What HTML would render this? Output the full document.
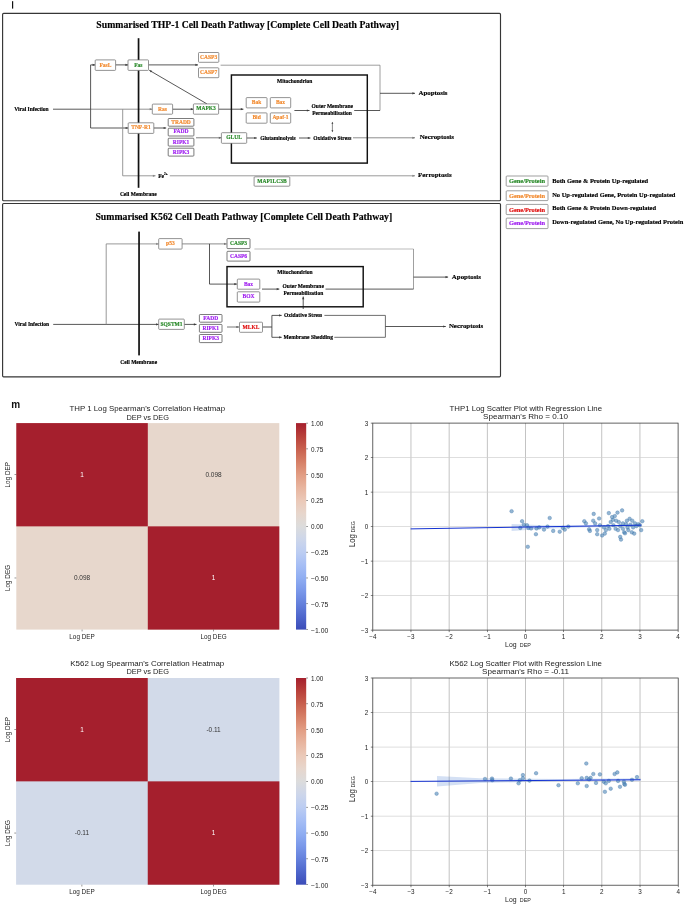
<!DOCTYPE html>
<html><head><meta charset="utf-8"><title>figure</title>
<style>
html,body{margin:0;padding:0;background:#fff;}
body{width:685px;height:907px;overflow:hidden;}
svg{display:block;filter:blur(0.3px);}
.sb{font-family:"Liberation Serif",serif;font-weight:bold;}
.ss{font-family:"Liberation Sans",sans-serif;}
.ssb{font-family:"Liberation Sans",sans-serif;font-weight:bold;}
</style></head><body>
<svg width="685" height="907" viewBox="0 0 685 907">
<rect x="0" y="0" width="685" height="907" fill="#fff"/>
<rect x="12" y="1.2" width="1.2" height="7.4" fill="#111"/>
<rect x="2.6" y="13.4" width="497.9" height="187.4" rx="1" fill="#fff" stroke="#363636" stroke-width="1.15"/>
<text x="247.65" y="27.90" font-size="9.75" text-anchor="middle" class="sb" fill="#000"  stroke="#000" stroke-width="0.16">Summarised THP-1 Cell Death Pathway [Complete Cell Death Pathway]</text>
<path d="M53.00,109.20 L90.60,109.20" fill="none" stroke="#3a3a3a" stroke-width="0.85" stroke-linejoin="round"/>
<path d="M90.60,109.20 L152.30,109.20" fill="none" stroke="#808080" stroke-width="0.85" stroke-linejoin="round"/>
<path d="M152.30,109.20 L149.70,110.30 L149.70,108.10Z" fill="#808080"/>
<path d="M90.60,109.20 L90.60,64.90 L95.20,64.90" fill="none" stroke="#3a3a3a" stroke-width="0.85" stroke-linejoin="round"/>
<path d="M95.20,64.90 L92.60,66.00 L92.60,63.80Z" fill="#3a3a3a"/>
<path d="M90.60,109.20 L90.60,128.00 L128.20,128.00" fill="none" stroke="#3a3a3a" stroke-width="0.85" stroke-linejoin="round"/>
<path d="M128.20,128.00 L125.60,129.10 L125.60,126.90Z" fill="#3a3a3a"/>
<path d="M122.70,109.20 L122.70,175.80 L155.50,175.80" fill="none" stroke="#878787" stroke-width="0.85" stroke-linejoin="round"/>
<path d="M155.50,175.80 L152.90,176.90 L152.90,174.70Z" fill="#878787"/>
<path d="M115.60,64.90 L128.00,64.90" fill="none" stroke="#3a3a3a" stroke-width="0.85" stroke-linejoin="round"/>
<path d="M128.00,64.90 L125.40,66.00 L125.40,63.80Z" fill="#3a3a3a"/>
<path d="M148.50,64.90 L198.00,64.90" fill="none" stroke="#3a3a3a" stroke-width="0.85" stroke-linejoin="round"/>
<path d="M198.00,64.90 L195.40,66.00 L195.40,63.80Z" fill="#3a3a3a"/>
<path d="M220.60,65.20 L380.00,65.20 L380.00,110.50" fill="none" stroke="#878787" stroke-width="0.8" stroke-linejoin="round"/>
<path d="M354.20,110.50 L380.00,110.50" fill="none" stroke="#3a3a3a" stroke-width="0.85" stroke-linejoin="round"/>
<path d="M380.00,93.30 L415.00,93.30" fill="none" stroke="#3a3a3a" stroke-width="0.85" stroke-linejoin="round"/>
<path d="M415.00,93.30 L412.40,94.40 L412.40,92.20Z" fill="#3a3a3a"/>
<path d="M172.60,109.20 L193.40,109.20" fill="none" stroke="#3a3a3a" stroke-width="0.85" stroke-linejoin="round"/>
<path d="M193.40,109.20 L190.80,110.30 L190.80,108.10Z" fill="#3a3a3a"/>
<path d="M218.60,109.20 L243.40,109.20" fill="none" stroke="#3a3a3a" stroke-width="0.85" stroke-linejoin="round"/>
<path d="M243.40,109.20 L240.80,110.30 L240.80,108.10Z" fill="#3a3a3a"/>
<path d="M206.80,103.80 L149.30,70.30" fill="none" stroke="#3a3a3a" stroke-width="0.85" stroke-linejoin="round"/>
<path d="M149.30,70.30 L152.10,70.66 L150.99,72.56Z" fill="#3a3a3a"/>
<path d="M153.80,128.00 L166.20,128.00" fill="none" stroke="#3a3a3a" stroke-width="0.85" stroke-linejoin="round"/>
<path d="M166.20,128.00 L163.60,129.10 L163.60,126.90Z" fill="#3a3a3a"/>
<path d="M196.00,137.80 L221.40,137.80" fill="none" stroke="#666" stroke-width="0.85" stroke-linejoin="round"/>
<path d="M221.40,137.80 L218.80,138.90 L218.80,136.70Z" fill="#666"/>
<path d="M246.60,138.00 L256.80,138.00" fill="none" stroke="#3a3a3a" stroke-width="0.85" stroke-linejoin="round"/>
<path d="M256.80,138.00 L254.20,139.10 L254.20,136.90Z" fill="#3a3a3a"/>
<path d="M299.00,138.00 L310.40,138.00" fill="none" stroke="#3a3a3a" stroke-width="0.85" stroke-linejoin="round"/>
<path d="M310.40,138.00 L307.80,139.10 L307.80,136.90Z" fill="#3a3a3a"/>
<path d="M294.40,110.50 L309.50,110.50" fill="none" stroke="#3a3a3a" stroke-width="0.85" stroke-linejoin="round"/>
<path d="M309.50,110.50 L306.90,111.60 L306.90,109.40Z" fill="#3a3a3a"/>
<path d="M353.00,137.80 L415.00,137.80" fill="none" stroke="#777" stroke-width="0.85" stroke-linejoin="round"/>
<path d="M415.00,137.80 L412.40,138.90 L412.40,136.70Z" fill="#777"/>
<path d="M169.80,175.80 L415.00,175.80" fill="none" stroke="#878787" stroke-width="0.85" stroke-linejoin="round"/>
<path d="M415.00,175.80 L412.40,176.90 L412.40,174.70Z" fill="#878787"/>
<path d="M332.40,122.60 L332.40,131.40" fill="none" stroke="#3a3a3a" stroke-width="0.6" stroke-linejoin="round"/>
<path d="M332.40,121.80 L333.30,123.80 L331.50,123.80Z" fill="#3a3a3a"/>
<path d="M332.40,132.20 L331.50,130.20 L333.30,130.20Z" fill="#3a3a3a"/>
<rect x="137.7" y="38.2" width="1.7" height="149.6" fill="#111"/>
<text x="138.30" y="195.81" font-size="5.5" text-anchor="middle" class="sb" fill="#000"  stroke="#000" stroke-width="0.16">Cell Membrane</text>
<rect x="231.4" y="75" width="135.9" height="88.1" fill="none" stroke="#111" stroke-width="1.45"/>
<text x="294.70" y="82.81" font-size="5.5" text-anchor="middle" class="sb" fill="#000"  stroke="#000" stroke-width="0.16">Mitochondrion</text>
<text x="31.45" y="110.72" font-size="5.5" text-anchor="middle" class="sb" fill="#000"  stroke="#000" stroke-width="0.16">Viral Infection</text>
<rect x="95.20" y="59.90" width="20.40" height="10.50" rx="0.8" fill="#fff" stroke="#666" stroke-width="0.7"/>
<text x="105.40" y="66.52" font-size="5.5" fill="#f28a2e" stroke="#f28a2e" stroke-width="0.16" text-anchor="middle" class="sb">FasL</text>
<rect x="128.00" y="59.90" width="20.50" height="10.50" rx="0.8" fill="#fff" stroke="#666" stroke-width="0.7"/>
<text x="138.25" y="66.52" font-size="5.5" fill="#2a8a2a" stroke="#2a8a2a" stroke-width="0.16" text-anchor="middle" class="sb">Fas</text>
<rect x="198.50" y="52.50" width="20.30" height="9.80" rx="0.8" fill="#fff" stroke="#666" stroke-width="0.7"/>
<text x="208.65" y="58.76" font-size="5.5" fill="#f28a2e" stroke="#f28a2e" stroke-width="0.16" text-anchor="middle" class="sb">CASP3</text>
<rect x="198.50" y="67.80" width="20.30" height="9.90" rx="0.8" fill="#fff" stroke="#666" stroke-width="0.7"/>
<text x="208.65" y="74.11" font-size="5.5" fill="#f28a2e" stroke="#f28a2e" stroke-width="0.16" text-anchor="middle" class="sb">CASP7</text>
<rect x="152.30" y="104.10" width="20.30" height="10.10" rx="0.8" fill="#fff" stroke="#666" stroke-width="0.7"/>
<text x="162.45" y="110.52" font-size="5.5" fill="#f28a2e" stroke="#f28a2e" stroke-width="0.16" text-anchor="middle" class="sb">Ras</text>
<rect x="193.40" y="103.90" width="25.20" height="10.30" rx="0.8" fill="#fff" stroke="#666" stroke-width="0.7"/>
<text x="206.00" y="110.42" font-size="5.5" fill="#2a8a2a" stroke="#2a8a2a" stroke-width="0.16" text-anchor="middle" class="sb">MAPK3</text>
<rect x="128.20" y="122.80" width="25.60" height="10.60" rx="0.8" fill="#fff" stroke="#666" stroke-width="0.7"/>
<text x="141.00" y="129.47" font-size="5.5" fill="#f28a2e" stroke="#f28a2e" stroke-width="0.16" text-anchor="middle" class="sb">TNF-R1</text>
<rect x="168.20" y="118.50" width="25.70" height="7.70" rx="0.8" fill="#fff" stroke="#444" stroke-width="0.7"/>
<text x="181.05" y="123.71" font-size="5.5" fill="#f28a2e" stroke="#f28a2e" stroke-width="0.16" text-anchor="middle" class="sb">TRADD</text>
<rect x="168.20" y="128.20" width="25.70" height="7.80" rx="0.8" fill="#fff" stroke="#444" stroke-width="0.7"/>
<text x="181.05" y="133.47" font-size="5.5" fill="#a020f0" stroke="#a020f0" stroke-width="0.16" text-anchor="middle" class="sb">FADD</text>
<rect x="168.20" y="138.20" width="25.70" height="7.90" rx="0.8" fill="#fff" stroke="#444" stroke-width="0.7"/>
<text x="181.05" y="143.51" font-size="5.5" fill="#a020f0" stroke="#a020f0" stroke-width="0.16" text-anchor="middle" class="sb">RIPK1</text>
<rect x="168.20" y="148.20" width="25.70" height="7.90" rx="0.8" fill="#fff" stroke="#444" stroke-width="0.7"/>
<text x="181.05" y="153.51" font-size="5.5" fill="#a020f0" stroke="#a020f0" stroke-width="0.16" text-anchor="middle" class="sb">RIPK3</text>
<rect x="221.40" y="132.70" width="25.30" height="10.60" rx="0.8" fill="#fff" stroke="#666" stroke-width="0.7"/>
<text x="234.05" y="139.37" font-size="5.5" fill="#2a8a2a" stroke="#2a8a2a" stroke-width="0.16" text-anchor="middle" class="sb">GLUL</text>
<rect x="246.20" y="97.60" width="20.80" height="10.30" rx="0.8" fill="#fff" stroke="#666" stroke-width="0.7"/>
<text x="256.60" y="104.11" font-size="5.5" fill="#f28a2e" stroke="#f28a2e" stroke-width="0.16" text-anchor="middle" class="sb">Bak</text>
<rect x="270.30" y="97.60" width="20.40" height="10.30" rx="0.8" fill="#fff" stroke="#666" stroke-width="0.7"/>
<text x="280.50" y="104.11" font-size="5.5" fill="#f28a2e" stroke="#f28a2e" stroke-width="0.16" text-anchor="middle" class="sb">Bax</text>
<rect x="246.20" y="112.90" width="20.80" height="10.30" rx="0.8" fill="#fff" stroke="#666" stroke-width="0.7"/>
<text x="256.60" y="119.42" font-size="5.5" fill="#f28a2e" stroke="#f28a2e" stroke-width="0.16" text-anchor="middle" class="sb">Bid</text>
<rect x="270.30" y="112.90" width="20.40" height="10.30" rx="0.8" fill="#fff" stroke="#666" stroke-width="0.7"/>
<text x="280.50" y="119.42" font-size="5.5" fill="#f28a2e" stroke="#f28a2e" stroke-width="0.16" text-anchor="middle" class="sb">Apaf-1</text>
<rect x="254.10" y="176.80" width="35.70" height="9.40" rx="0.8" fill="#fff" stroke="#666" stroke-width="0.7"/>
<text x="271.95" y="182.87" font-size="5.5" fill="#2a8a2a" stroke="#2a8a2a" stroke-width="0.16" text-anchor="middle" class="sb">MAP1LC3B</text>
<text x="332.25" y="108.02" font-size="5.5" text-anchor="middle" class="sb" fill="#000"  stroke="#000" stroke-width="0.16">Outer Membrane</text>
<text x="332.00" y="114.61" font-size="5.5" text-anchor="middle" class="sb" fill="#000"  stroke="#000" stroke-width="0.16">Permeabilisation</text>
<text x="278.05" y="139.62" font-size="5.5" text-anchor="middle" class="sb" fill="#000"  stroke="#000" stroke-width="0.16">Glutaminolysis</text>
<text x="332.30" y="139.72" font-size="5.5" text-anchor="middle" class="sb" fill="#000"  stroke="#000" stroke-width="0.16">Oxidative Stress</text>
<text x="158.20" y="177.60" font-size="5.5" text-anchor="start" class="sb" fill="#000"  stroke="#000" stroke-width="0.16">Fe<tspan font-size="3.4" dy="-2.2">2+</tspan></text>
<text x="433.00" y="95.18" font-size="6.9" text-anchor="middle" class="sb" fill="#000"  stroke="#000" stroke-width="0.16">Apoptosis</text>
<text x="436.80" y="139.18" font-size="6.9" text-anchor="middle" class="sb" fill="#000"  stroke="#000" stroke-width="0.16">Necroptosis</text>
<text x="434.85" y="177.38" font-size="6.9" text-anchor="middle" class="sb" fill="#000"  stroke="#000" stroke-width="0.16">Ferroptosis</text>
<rect x="506.2" y="176" width="41.8" height="10.20" rx="0.8" fill="#fff" stroke="#777" stroke-width="0.7"/>
<text x="527.00" y="183.21" font-size="6.4" text-anchor="middle" class="sb" fill="#2a8a2a"  stroke="#2a8a2a" stroke-width="0.16">Gene/Protein</text>
<text x="552.20" y="182.51" font-size="6.45" text-anchor="start" class="sb" fill="#000"  stroke="#000" stroke-width="0.16">Both Gene &amp; Protein Up-regulated</text>
<rect x="506.2" y="190.8" width="41.8" height="9.80" rx="0.8" fill="#fff" stroke="#777" stroke-width="0.7"/>
<text x="527.00" y="197.81" font-size="6.4" text-anchor="middle" class="sb" fill="#f28a2e"  stroke="#f28a2e" stroke-width="0.16">Gene/Protein</text>
<text x="552.20" y="196.91" font-size="6.45" text-anchor="start" class="sb" fill="#000"  stroke="#000" stroke-width="0.16">No Up-regulated Gene, Protein Up-regulated</text>
<rect x="506.2" y="204.4" width="41.8" height="10.20" rx="0.8" fill="#fff" stroke="#777" stroke-width="0.7"/>
<text x="527.00" y="211.61" font-size="6.4" text-anchor="middle" class="sb" fill="#e01010"  stroke="#e01010" stroke-width="0.16">Gene/Protein</text>
<text x="552.20" y="210.41" font-size="6.45" text-anchor="start" class="sb" fill="#000"  stroke="#000" stroke-width="0.16">Both Gene &amp; Protein Down-regulated</text>
<rect x="506.2" y="218.1" width="41.8" height="10.50" rx="0.8" fill="#fff" stroke="#777" stroke-width="0.7"/>
<text x="527.00" y="225.46" font-size="6.4" text-anchor="middle" class="sb" fill="#a020f0"  stroke="#a020f0" stroke-width="0.16">Gene/Protein</text>
<text x="552.20" y="223.91" font-size="6.45" text-anchor="start" class="sb" fill="#000"  stroke="#000" stroke-width="0.16">Down-regulated Gene, No Up-regulated Protein</text>
<rect x="2.6" y="203.5" width="497.9" height="173.3" rx="1" fill="#fff" stroke="#363636" stroke-width="1.15"/>
<text x="243.85" y="220.40" font-size="9.75" text-anchor="middle" class="sb" fill="#000"  stroke="#000" stroke-width="0.16">Summarised K562 Cell Death Pathway [Complete Cell Death Pathway]</text>
<path d="M53.20,324.40 L158.70,324.40" fill="none" stroke="#3a3a3a" stroke-width="0.85" stroke-linejoin="round"/>
<path d="M158.70,324.40 L156.10,325.50 L156.10,323.30Z" fill="#3a3a3a"/>
<path d="M106.20,324.40 L106.20,243.90 L158.70,243.90" fill="none" stroke="#878787" stroke-width="0.85" stroke-linejoin="round"/>
<path d="M158.70,243.90 L156.10,245.00 L156.10,242.80Z" fill="#878787"/>
<path d="M182.10,243.90 L226.60,243.90" fill="none" stroke="#777" stroke-width="0.85" stroke-linejoin="round"/>
<path d="M226.60,243.90 L224.00,245.00 L224.00,242.80Z" fill="#777"/>
<path d="M209.50,243.90 L209.50,284.10 L236.90,284.10" fill="none" stroke="#3a3a3a" stroke-width="0.85" stroke-linejoin="round"/>
<path d="M236.90,284.10 L234.30,285.20 L234.30,283.00Z" fill="#3a3a3a"/>
<path d="M254.40,249.00 L413.50,249.00" fill="none" stroke="#aaa" stroke-width="0.8" stroke-linejoin="round"/>
<path d="M413.50,249.00 L413.50,289.10" fill="none" stroke="#777" stroke-width="0.7" stroke-linejoin="round"/>
<path d="M325.50,289.10 L413.50,289.10" fill="none" stroke="#3a3a3a" stroke-width="0.85" stroke-linejoin="round"/>
<path d="M413.50,277.10 L448.10,277.10" fill="none" stroke="#3a3a3a" stroke-width="0.85" stroke-linejoin="round"/>
<path d="M448.10,277.10 L445.50,278.20 L445.50,276.00Z" fill="#3a3a3a"/>
<path d="M262.00,289.10 L279.30,289.10" fill="none" stroke="#3a3a3a" stroke-width="0.85" stroke-linejoin="round"/>
<path d="M279.30,289.10 L276.70,290.20 L276.70,288.00Z" fill="#3a3a3a"/>
<path d="M184.30,324.40 L196.50,324.40" fill="none" stroke="#3a3a3a" stroke-width="0.85" stroke-linejoin="round"/>
<path d="M196.50,324.40 L193.90,325.50 L193.90,323.30Z" fill="#3a3a3a"/>
<path d="M227.00,327.00 L239.00,327.00" fill="none" stroke="#555" stroke-width="0.8" stroke-linejoin="round"/>
<path d="M239.00,327.00 L236.40,328.10 L236.40,325.90Z" fill="#555"/>
<path d="M262.50,327.00 L271.90,327.00" fill="none" stroke="#3a3a3a" stroke-width="0.9" stroke-linejoin="round"/>
<path d="M271.90,327.00 L271.90,315.40 L281.70,315.40" fill="none" stroke="#3a3a3a" stroke-width="0.85" stroke-linejoin="round"/>
<path d="M281.70,315.40 L279.10,316.50 L279.10,314.30Z" fill="#3a3a3a"/>
<path d="M271.90,327.00 L271.90,337.30 L281.70,337.30" fill="none" stroke="#3a3a3a" stroke-width="0.85" stroke-linejoin="round"/>
<path d="M281.70,337.30 L279.10,338.40 L279.10,336.20Z" fill="#3a3a3a"/>
<path d="M324.40,315.40 L385.40,315.40 L385.40,337.30 L334.30,337.30" fill="none" stroke="#555" stroke-width="0.85" stroke-linejoin="round"/>
<path d="M385.40,326.50 L445.80,326.50" fill="none" stroke="#3a3a3a" stroke-width="0.85" stroke-linejoin="round"/>
<path d="M445.80,326.50 L443.20,327.60 L443.20,325.40Z" fill="#3a3a3a"/>
<path d="M303.20,309.00 L303.20,296.60" fill="none" stroke="#3a3a3a" stroke-width="0.85" stroke-linejoin="round"/>
<path d="M303.20,296.60 L304.30,299.20 L302.10,299.20Z" fill="#3a3a3a"/>
<rect x="138.2" y="231.6" width="1.7" height="123.8" fill="#111"/>
<text x="138.70" y="363.92" font-size="5.5" text-anchor="middle" class="sb" fill="#000"  stroke="#000" stroke-width="0.16">Cell Membrane</text>
<rect x="227" y="266.6" width="136.2" height="40.2" fill="none" stroke="#111" stroke-width="1.45"/>
<text x="294.95" y="274.12" font-size="5.5" text-anchor="middle" class="sb" fill="#000"  stroke="#000" stroke-width="0.16">Mitochondrion</text>
<text x="31.75" y="326.01" font-size="5.5" text-anchor="middle" class="sb" fill="#000"  stroke="#000" stroke-width="0.16">Viral Infection</text>
<rect x="158.70" y="238.60" width="23.40" height="10.50" rx="0.8" fill="#fff" stroke="#666" stroke-width="0.7"/>
<text x="170.40" y="245.22" font-size="5.5" fill="#f28a2e" stroke="#f28a2e" stroke-width="0.16" text-anchor="middle" class="sb">p53</text>
<rect x="227.00" y="238.60" width="23.00" height="10.00" rx="0.8" fill="#fff" stroke="#444" stroke-width="0.7"/>
<text x="238.50" y="244.97" font-size="5.5" fill="#2a8a2a" stroke="#2a8a2a" stroke-width="0.16" text-anchor="middle" class="sb">CASP3</text>
<rect x="227.00" y="251.30" width="23.00" height="9.80" rx="0.8" fill="#fff" stroke="#444" stroke-width="0.7"/>
<text x="238.50" y="257.57" font-size="5.5" fill="#a020f0" stroke="#a020f0" stroke-width="0.16" text-anchor="middle" class="sb">CASP6</text>
<rect x="237.30" y="279.10" width="22.50" height="10.10" rx="0.8" fill="#fff" stroke="#666" stroke-width="0.7"/>
<text x="248.55" y="285.51" font-size="5.5" fill="#a020f0" stroke="#a020f0" stroke-width="0.16" text-anchor="middle" class="sb">Bax</text>
<rect x="237.30" y="291.80" width="22.50" height="10.30" rx="0.8" fill="#fff" stroke="#666" stroke-width="0.7"/>
<text x="248.55" y="298.32" font-size="5.5" fill="#a020f0" stroke="#a020f0" stroke-width="0.16" text-anchor="middle" class="sb">BOX</text>
<rect x="158.70" y="319.10" width="25.60" height="10.30" rx="0.8" fill="#fff" stroke="#666" stroke-width="0.7"/>
<text x="171.50" y="325.62" font-size="5.5" fill="#2a8a2a" stroke="#2a8a2a" stroke-width="0.16" text-anchor="middle" class="sb">SQSTM1</text>
<rect x="199.40" y="314.50" width="22.60" height="7.70" rx="0.8" fill="#fff" stroke="#444" stroke-width="0.7"/>
<text x="210.70" y="319.72" font-size="5.5" fill="#a020f0" stroke="#a020f0" stroke-width="0.16" text-anchor="middle" class="sb">FADD</text>
<rect x="199.40" y="324.40" width="22.60" height="7.90" rx="0.8" fill="#fff" stroke="#444" stroke-width="0.7"/>
<text x="210.70" y="329.72" font-size="5.5" fill="#a020f0" stroke="#a020f0" stroke-width="0.16" text-anchor="middle" class="sb">RIPK1</text>
<rect x="199.40" y="334.50" width="22.60" height="8.10" rx="0.8" fill="#fff" stroke="#444" stroke-width="0.7"/>
<text x="210.70" y="339.92" font-size="5.5" fill="#a020f0" stroke="#a020f0" stroke-width="0.16" text-anchor="middle" class="sb">RIPK3</text>
<rect x="239.50" y="322.20" width="23.00" height="10.10" rx="0.8" fill="#fff" stroke="#666" stroke-width="0.7"/>
<text x="251.00" y="328.62" font-size="5.5" fill="#e01010" stroke="#e01010" stroke-width="0.16" text-anchor="middle" class="sb">MLKL</text>
<text x="303.20" y="288.21" font-size="5.5" text-anchor="middle" class="sb" fill="#000"  stroke="#000" stroke-width="0.16">Outer Membrane</text>
<text x="303.35" y="295.01" font-size="5.5" text-anchor="middle" class="sb" fill="#000"  stroke="#000" stroke-width="0.16">Permeabilisation</text>
<text x="303.10" y="316.92" font-size="5.5" text-anchor="middle" class="sb" fill="#000"  stroke="#000" stroke-width="0.16">Oxidative Stress</text>
<text x="308.25" y="338.51" font-size="5.5" text-anchor="middle" class="sb" fill="#000"  stroke="#000" stroke-width="0.16">Membrane Shedding</text>
<text x="466.40" y="278.98" font-size="6.9" text-anchor="middle" class="sb" fill="#000"  stroke="#000" stroke-width="0.16">Apoptosis</text>
<text x="466.05" y="328.28" font-size="6.9" text-anchor="middle" class="sb" fill="#000"  stroke="#000" stroke-width="0.16">Necroptosis</text>
<text x="11.30" y="408.30" font-size="10" text-anchor="start" class="ssb" fill="#111" >m</text>
<defs><linearGradient id="cw" x1="0" y1="1" x2="0" y2="0">
<stop offset="0.0000" stop-color="#3b4cb8"/>
<stop offset="0.0625" stop-color="#4e66cc"/>
<stop offset="0.1250" stop-color="#6480dc"/>
<stop offset="0.1875" stop-color="#7a98ea"/>
<stop offset="0.2500" stop-color="#90aef2"/>
<stop offset="0.3125" stop-color="#a6bef5"/>
<stop offset="0.3750" stop-color="#bccdf2"/>
<stop offset="0.4375" stop-color="#cdd6ea"/>
<stop offset="0.5000" stop-color="#dcdcdc"/>
<stop offset="0.5625" stop-color="#e7d6cc"/>
<stop offset="0.6250" stop-color="#ebc9b8"/>
<stop offset="0.6875" stop-color="#e8b59f"/>
<stop offset="0.7500" stop-color="#e29d83"/>
<stop offset="0.8125" stop-color="#d67f66"/>
<stop offset="0.8750" stop-color="#c8604e"/>
<stop offset="0.9375" stop-color="#b8403a"/>
<stop offset="1.0000" stop-color="#a51f2d"/>
</linearGradient></defs>
<rect x="16.3" y="423.1" width="263.00" height="206.50" fill="#e7d7cc"/>
<rect x="16.3" y="423.1" width="131.50" height="103.25" fill="#a51f2d"/>
<rect x="147.8" y="526.35" width="131.50" height="103.25" fill="#a51f2d"/>
<text x="147.25" y="410.70" font-size="7.8" text-anchor="middle" class="ss" fill="#222" textLength="155.5" lengthAdjust="spacingAndGlyphs">THP 1 Log Spearman's Correlation Heatmap</text>
<text x="147.75" y="419.50" font-size="7.8" text-anchor="middle" class="ss" fill="#222" textLength="42.5" lengthAdjust="spacingAndGlyphs">DEP vs DEG</text>
<text x="82.05" y="476.93" font-size="6.4" text-anchor="middle" class="ss" fill="#fff" >1</text>
<text x="213.55" y="580.18" font-size="6.4" text-anchor="middle" class="ss" fill="#fff" >1</text>
<text x="213.55" y="476.93" font-size="6.5" text-anchor="middle" class="ss" fill="#333" >0.098</text>
<text x="82.05" y="580.18" font-size="6.5" text-anchor="middle" class="ss" fill="#333" >0.098</text>
<rect x="81.80" y="629.6" width="0.5" height="1.8" fill="#333"/>
<text x="82.05" y="638.90" font-size="6.35" text-anchor="middle" class="ss" fill="#222" >Log DEP</text>
<rect x="213.30" y="629.6" width="0.5" height="1.8" fill="#333"/>
<text x="213.55" y="638.90" font-size="6.35" text-anchor="middle" class="ss" fill="#222" >Log DEG</text>
<rect x="14.50" y="474.48" width="1.8" height="0.5" fill="#333"/>
<text transform="translate(10.10,474.73) rotate(-90)" font-size="6.35" text-anchor="middle" class="ss" fill="#222">Log DEP</text>
<rect x="14.50" y="577.73" width="1.8" height="0.5" fill="#333"/>
<text transform="translate(10.10,577.98) rotate(-90)" font-size="6.35" text-anchor="middle" class="ss" fill="#222">Log DEG</text>
<rect x="296" y="423.1" width="10.2" height="206.50" fill="url(#cw)"/>
<rect x="306.2" y="422.85" width="1.8" height="0.5" fill="#333"/>
<text x="311.00" y="426.00" font-size="6.6" text-anchor="start" class="ss" fill="#222" textLength="12.4" lengthAdjust="spacingAndGlyphs">1.00</text>
<rect x="306.2" y="448.66" width="1.8" height="0.5" fill="#333"/>
<text x="311.00" y="451.81" font-size="6.6" text-anchor="start" class="ss" fill="#222" textLength="12.4" lengthAdjust="spacingAndGlyphs">0.75</text>
<rect x="306.2" y="474.48" width="1.8" height="0.5" fill="#333"/>
<text x="311.00" y="477.62" font-size="6.6" text-anchor="start" class="ss" fill="#222" textLength="12.4" lengthAdjust="spacingAndGlyphs">0.50</text>
<rect x="306.2" y="500.29" width="1.8" height="0.5" fill="#333"/>
<text x="311.00" y="503.44" font-size="6.6" text-anchor="start" class="ss" fill="#222" textLength="12.4" lengthAdjust="spacingAndGlyphs">0.25</text>
<rect x="306.2" y="526.10" width="1.8" height="0.5" fill="#333"/>
<text x="311.00" y="529.25" font-size="6.6" text-anchor="start" class="ss" fill="#222" textLength="12.4" lengthAdjust="spacingAndGlyphs">0.00</text>
<rect x="306.2" y="551.91" width="1.8" height="0.5" fill="#333"/>
<text x="311.00" y="555.06" font-size="6.6" text-anchor="start" class="ss" fill="#222" textLength="17.3" lengthAdjust="spacingAndGlyphs">−0.25</text>
<rect x="306.2" y="577.73" width="1.8" height="0.5" fill="#333"/>
<text x="311.00" y="580.88" font-size="6.6" text-anchor="start" class="ss" fill="#222" textLength="17.3" lengthAdjust="spacingAndGlyphs">−0.50</text>
<rect x="306.2" y="603.54" width="1.8" height="0.5" fill="#333"/>
<text x="311.00" y="606.69" font-size="6.6" text-anchor="start" class="ss" fill="#222" textLength="17.3" lengthAdjust="spacingAndGlyphs">−0.75</text>
<rect x="306.2" y="629.35" width="1.8" height="0.5" fill="#333"/>
<text x="311.00" y="632.50" font-size="6.6" text-anchor="start" class="ss" fill="#222" textLength="17.3" lengthAdjust="spacingAndGlyphs">−1.00</text>
<rect x="16.1" y="678" width="263.30" height="206.70" fill="#d2dae9"/>
<rect x="16.1" y="678" width="131.65" height="103.35" fill="#a51f2d"/>
<rect x="147.75" y="781.35" width="131.65" height="103.35" fill="#a51f2d"/>
<text x="147.25" y="665.60" font-size="7.8" text-anchor="middle" class="ss" fill="#222" textLength="154" lengthAdjust="spacingAndGlyphs">K562 Log Spearman's Correlation Heatmap</text>
<text x="147.75" y="674.40" font-size="7.8" text-anchor="middle" class="ss" fill="#222" textLength="42.5" lengthAdjust="spacingAndGlyphs">DEP vs DEG</text>
<text x="81.92" y="731.88" font-size="6.4" text-anchor="middle" class="ss" fill="#fff" >1</text>
<text x="213.57" y="835.23" font-size="6.4" text-anchor="middle" class="ss" fill="#fff" >1</text>
<text x="213.57" y="731.88" font-size="6.5" text-anchor="middle" class="ss" fill="#333" >-0.11</text>
<text x="81.92" y="835.23" font-size="6.5" text-anchor="middle" class="ss" fill="#333" >-0.11</text>
<rect x="81.67" y="884.7" width="0.5" height="1.8" fill="#333"/>
<text x="81.92" y="894.00" font-size="6.35" text-anchor="middle" class="ss" fill="#222" >Log DEP</text>
<rect x="213.32" y="884.7" width="0.5" height="1.8" fill="#333"/>
<text x="213.57" y="894.00" font-size="6.35" text-anchor="middle" class="ss" fill="#222" >Log DEG</text>
<rect x="14.30" y="729.42" width="1.8" height="0.5" fill="#333"/>
<text transform="translate(9.90,729.67) rotate(-90)" font-size="6.35" text-anchor="middle" class="ss" fill="#222">Log DEP</text>
<rect x="14.30" y="832.78" width="1.8" height="0.5" fill="#333"/>
<text transform="translate(9.90,833.03) rotate(-90)" font-size="6.35" text-anchor="middle" class="ss" fill="#222">Log DEG</text>
<rect x="296" y="678" width="10.2" height="206.70" fill="url(#cw)"/>
<rect x="306.2" y="677.75" width="1.8" height="0.5" fill="#333"/>
<text x="311.00" y="680.90" font-size="6.6" text-anchor="start" class="ss" fill="#222" textLength="12.4" lengthAdjust="spacingAndGlyphs">1.00</text>
<rect x="306.2" y="703.59" width="1.8" height="0.5" fill="#333"/>
<text x="311.00" y="706.74" font-size="6.6" text-anchor="start" class="ss" fill="#222" textLength="12.4" lengthAdjust="spacingAndGlyphs">0.75</text>
<rect x="306.2" y="729.42" width="1.8" height="0.5" fill="#333"/>
<text x="311.00" y="732.57" font-size="6.6" text-anchor="start" class="ss" fill="#222" textLength="12.4" lengthAdjust="spacingAndGlyphs">0.50</text>
<rect x="306.2" y="755.26" width="1.8" height="0.5" fill="#333"/>
<text x="311.00" y="758.41" font-size="6.6" text-anchor="start" class="ss" fill="#222" textLength="12.4" lengthAdjust="spacingAndGlyphs">0.25</text>
<rect x="306.2" y="781.10" width="1.8" height="0.5" fill="#333"/>
<text x="311.00" y="784.25" font-size="6.6" text-anchor="start" class="ss" fill="#222" textLength="12.4" lengthAdjust="spacingAndGlyphs">0.00</text>
<rect x="306.2" y="806.94" width="1.8" height="0.5" fill="#333"/>
<text x="311.00" y="810.09" font-size="6.6" text-anchor="start" class="ss" fill="#222" textLength="17.3" lengthAdjust="spacingAndGlyphs">−0.25</text>
<rect x="306.2" y="832.78" width="1.8" height="0.5" fill="#333"/>
<text x="311.00" y="835.93" font-size="6.6" text-anchor="start" class="ss" fill="#222" textLength="17.3" lengthAdjust="spacingAndGlyphs">−0.50</text>
<rect x="306.2" y="858.61" width="1.8" height="0.5" fill="#333"/>
<text x="311.00" y="861.76" font-size="6.6" text-anchor="start" class="ss" fill="#222" textLength="17.3" lengthAdjust="spacingAndGlyphs">−0.75</text>
<rect x="306.2" y="884.45" width="1.8" height="0.5" fill="#333"/>
<text x="311.00" y="887.60" font-size="6.6" text-anchor="start" class="ss" fill="#222" textLength="17.3" lengthAdjust="spacingAndGlyphs">−1.00</text>
<rect x="410.56" y="423.1" width="0.8" height="207.00" fill="#b4b4b4"/>
<rect x="448.73" y="423.1" width="0.8" height="207.00" fill="#b4b4b4"/>
<rect x="486.89" y="423.1" width="0.8" height="207.00" fill="#b4b4b4"/>
<rect x="525.05" y="423.1" width="0.8" height="207.00" fill="#b4b4b4"/>
<rect x="563.21" y="423.1" width="0.8" height="207.00" fill="#b4b4b4"/>
<rect x="601.38" y="423.1" width="0.8" height="207.00" fill="#b4b4b4"/>
<rect x="639.54" y="423.1" width="0.8" height="207.00" fill="#b4b4b4"/>
<rect x="372.8" y="457.25" width="305.30" height="0.7" fill="#d0d0d0"/>
<rect x="372.8" y="491.75" width="305.30" height="0.7" fill="#d0d0d0"/>
<rect x="372.8" y="526.25" width="305.30" height="0.7" fill="#d0d0d0"/>
<rect x="372.8" y="560.75" width="305.30" height="0.7" fill="#d0d0d0"/>
<rect x="372.8" y="595.25" width="305.30" height="0.7" fill="#d0d0d0"/>
<path d="M511.6,523.9 L545,525.3 L580,525.6 L610,525.2 L641,524.0 L641,526.6 L610,526.9 L580,527.6 L545,528.8 L511.6,531Z" fill="#4a7fd0" fill-opacity="0.24"/>
<circle cx="511.6" cy="511.2" r="1.8" fill="#4682b4" fill-opacity="0.58" stroke="#3c74a8" stroke-opacity="0.7" stroke-width="0.5"/>
<circle cx="522.1" cy="521.2" r="1.8" fill="#4682b4" fill-opacity="0.58" stroke="#3c74a8" stroke-opacity="0.7" stroke-width="0.5"/>
<circle cx="520.3" cy="527.9" r="1.8" fill="#4682b4" fill-opacity="0.58" stroke="#3c74a8" stroke-opacity="0.7" stroke-width="0.5"/>
<circle cx="523.8" cy="524.7" r="1.8" fill="#4682b4" fill-opacity="0.58" stroke="#3c74a8" stroke-opacity="0.7" stroke-width="0.5"/>
<circle cx="527.0" cy="525.2" r="1.8" fill="#4682b4" fill-opacity="0.58" stroke="#3c74a8" stroke-opacity="0.7" stroke-width="0.5"/>
<circle cx="528.4" cy="527.9" r="1.8" fill="#4682b4" fill-opacity="0.58" stroke="#3c74a8" stroke-opacity="0.7" stroke-width="0.5"/>
<circle cx="531.1" cy="528.5" r="1.8" fill="#4682b4" fill-opacity="0.58" stroke="#3c74a8" stroke-opacity="0.7" stroke-width="0.5"/>
<circle cx="527.8" cy="546.8" r="1.8" fill="#4682b4" fill-opacity="0.58" stroke="#3c74a8" stroke-opacity="0.7" stroke-width="0.5"/>
<circle cx="535.9" cy="534.2" r="1.8" fill="#4682b4" fill-opacity="0.58" stroke="#3c74a8" stroke-opacity="0.7" stroke-width="0.5"/>
<circle cx="536.5" cy="528.5" r="1.8" fill="#4682b4" fill-opacity="0.58" stroke="#3c74a8" stroke-opacity="0.7" stroke-width="0.5"/>
<circle cx="539.2" cy="527.4" r="1.8" fill="#4682b4" fill-opacity="0.58" stroke="#3c74a8" stroke-opacity="0.7" stroke-width="0.5"/>
<circle cx="544.0" cy="529.6" r="1.8" fill="#4682b4" fill-opacity="0.58" stroke="#3c74a8" stroke-opacity="0.7" stroke-width="0.5"/>
<circle cx="547.5" cy="526.6" r="1.8" fill="#4682b4" fill-opacity="0.58" stroke="#3c74a8" stroke-opacity="0.7" stroke-width="0.5"/>
<circle cx="549.7" cy="518.0" r="1.8" fill="#4682b4" fill-opacity="0.58" stroke="#3c74a8" stroke-opacity="0.7" stroke-width="0.5"/>
<circle cx="553.2" cy="530.9" r="1.8" fill="#4682b4" fill-opacity="0.58" stroke="#3c74a8" stroke-opacity="0.7" stroke-width="0.5"/>
<circle cx="559.7" cy="531.7" r="1.8" fill="#4682b4" fill-opacity="0.58" stroke="#3c74a8" stroke-opacity="0.7" stroke-width="0.5"/>
<circle cx="562.9" cy="527.9" r="1.8" fill="#4682b4" fill-opacity="0.58" stroke="#3c74a8" stroke-opacity="0.7" stroke-width="0.5"/>
<circle cx="564.8" cy="529.6" r="1.8" fill="#4682b4" fill-opacity="0.58" stroke="#3c74a8" stroke-opacity="0.7" stroke-width="0.5"/>
<circle cx="568.3" cy="526.6" r="1.8" fill="#4682b4" fill-opacity="0.58" stroke="#3c74a8" stroke-opacity="0.7" stroke-width="0.5"/>
<circle cx="584.3" cy="521.2" r="1.8" fill="#4682b4" fill-opacity="0.58" stroke="#3c74a8" stroke-opacity="0.7" stroke-width="0.5"/>
<circle cx="585.9" cy="523.4" r="1.8" fill="#4682b4" fill-opacity="0.58" stroke="#3c74a8" stroke-opacity="0.7" stroke-width="0.5"/>
<circle cx="589.1" cy="529.3" r="1.8" fill="#4682b4" fill-opacity="0.58" stroke="#3c74a8" stroke-opacity="0.7" stroke-width="0.5"/>
<circle cx="589.9" cy="530.9" r="1.8" fill="#4682b4" fill-opacity="0.58" stroke="#3c74a8" stroke-opacity="0.7" stroke-width="0.5"/>
<circle cx="593.7" cy="513.9" r="1.8" fill="#4682b4" fill-opacity="0.58" stroke="#3c74a8" stroke-opacity="0.7" stroke-width="0.5"/>
<circle cx="593.2" cy="520.7" r="1.8" fill="#4682b4" fill-opacity="0.58" stroke="#3c74a8" stroke-opacity="0.7" stroke-width="0.5"/>
<circle cx="595.1" cy="523.4" r="1.8" fill="#4682b4" fill-opacity="0.58" stroke="#3c74a8" stroke-opacity="0.7" stroke-width="0.5"/>
<circle cx="597.2" cy="530.1" r="1.8" fill="#4682b4" fill-opacity="0.58" stroke="#3c74a8" stroke-opacity="0.7" stroke-width="0.5"/>
<circle cx="597.2" cy="534.2" r="1.8" fill="#4682b4" fill-opacity="0.58" stroke="#3c74a8" stroke-opacity="0.7" stroke-width="0.5"/>
<circle cx="599.1" cy="518.5" r="1.8" fill="#4682b4" fill-opacity="0.58" stroke="#3c74a8" stroke-opacity="0.7" stroke-width="0.5"/>
<circle cx="599.9" cy="525.2" r="1.8" fill="#4682b4" fill-opacity="0.58" stroke="#3c74a8" stroke-opacity="0.7" stroke-width="0.5"/>
<circle cx="602.1" cy="535.5" r="1.8" fill="#4682b4" fill-opacity="0.58" stroke="#3c74a8" stroke-opacity="0.7" stroke-width="0.5"/>
<circle cx="604.0" cy="527.4" r="1.8" fill="#4682b4" fill-opacity="0.58" stroke="#3c74a8" stroke-opacity="0.7" stroke-width="0.5"/>
<circle cx="604.8" cy="533.6" r="1.8" fill="#4682b4" fill-opacity="0.58" stroke="#3c74a8" stroke-opacity="0.7" stroke-width="0.5"/>
<circle cx="605.9" cy="530.1" r="1.8" fill="#4682b4" fill-opacity="0.58" stroke="#3c74a8" stroke-opacity="0.7" stroke-width="0.5"/>
<circle cx="608.0" cy="526.1" r="1.8" fill="#4682b4" fill-opacity="0.58" stroke="#3c74a8" stroke-opacity="0.7" stroke-width="0.5"/>
<circle cx="608.8" cy="513.1" r="1.8" fill="#4682b4" fill-opacity="0.58" stroke="#3c74a8" stroke-opacity="0.7" stroke-width="0.5"/>
<circle cx="609.4" cy="528.8" r="1.8" fill="#4682b4" fill-opacity="0.58" stroke="#3c74a8" stroke-opacity="0.7" stroke-width="0.5"/>
<circle cx="610.7" cy="522.0" r="1.8" fill="#4682b4" fill-opacity="0.58" stroke="#3c74a8" stroke-opacity="0.7" stroke-width="0.5"/>
<circle cx="612.1" cy="517.1" r="1.8" fill="#4682b4" fill-opacity="0.58" stroke="#3c74a8" stroke-opacity="0.7" stroke-width="0.5"/>
<circle cx="612.9" cy="519.8" r="1.8" fill="#4682b4" fill-opacity="0.58" stroke="#3c74a8" stroke-opacity="0.7" stroke-width="0.5"/>
<circle cx="613.4" cy="525.2" r="1.8" fill="#4682b4" fill-opacity="0.58" stroke="#3c74a8" stroke-opacity="0.7" stroke-width="0.5"/>
<circle cx="614.8" cy="516.1" r="1.8" fill="#4682b4" fill-opacity="0.58" stroke="#3c74a8" stroke-opacity="0.7" stroke-width="0.5"/>
<circle cx="615.6" cy="528.8" r="1.8" fill="#4682b4" fill-opacity="0.58" stroke="#3c74a8" stroke-opacity="0.7" stroke-width="0.5"/>
<circle cx="616.1" cy="520.7" r="1.8" fill="#4682b4" fill-opacity="0.58" stroke="#3c74a8" stroke-opacity="0.7" stroke-width="0.5"/>
<circle cx="617.5" cy="512.6" r="1.8" fill="#4682b4" fill-opacity="0.58" stroke="#3c74a8" stroke-opacity="0.7" stroke-width="0.5"/>
<circle cx="618.0" cy="530.1" r="1.8" fill="#4682b4" fill-opacity="0.58" stroke="#3c74a8" stroke-opacity="0.7" stroke-width="0.5"/>
<circle cx="618.8" cy="522.0" r="1.8" fill="#4682b4" fill-opacity="0.58" stroke="#3c74a8" stroke-opacity="0.7" stroke-width="0.5"/>
<circle cx="620.2" cy="526.1" r="1.8" fill="#4682b4" fill-opacity="0.58" stroke="#3c74a8" stroke-opacity="0.7" stroke-width="0.5"/>
<circle cx="620.2" cy="536.9" r="1.8" fill="#4682b4" fill-opacity="0.58" stroke="#3c74a8" stroke-opacity="0.7" stroke-width="0.5"/>
<circle cx="621.0" cy="539.6" r="1.8" fill="#4682b4" fill-opacity="0.58" stroke="#3c74a8" stroke-opacity="0.7" stroke-width="0.5"/>
<circle cx="622.1" cy="510.4" r="1.8" fill="#4682b4" fill-opacity="0.58" stroke="#3c74a8" stroke-opacity="0.7" stroke-width="0.5"/>
<circle cx="622.9" cy="523.4" r="1.8" fill="#4682b4" fill-opacity="0.58" stroke="#3c74a8" stroke-opacity="0.7" stroke-width="0.5"/>
<circle cx="622.9" cy="528.8" r="1.8" fill="#4682b4" fill-opacity="0.58" stroke="#3c74a8" stroke-opacity="0.7" stroke-width="0.5"/>
<circle cx="624.2" cy="532.3" r="1.8" fill="#4682b4" fill-opacity="0.58" stroke="#3c74a8" stroke-opacity="0.7" stroke-width="0.5"/>
<circle cx="625.0" cy="533.3" r="1.8" fill="#4682b4" fill-opacity="0.58" stroke="#3c74a8" stroke-opacity="0.7" stroke-width="0.5"/>
<circle cx="626.1" cy="524.2" r="1.8" fill="#4682b4" fill-opacity="0.58" stroke="#3c74a8" stroke-opacity="0.7" stroke-width="0.5"/>
<circle cx="626.9" cy="520.7" r="1.8" fill="#4682b4" fill-opacity="0.58" stroke="#3c74a8" stroke-opacity="0.7" stroke-width="0.5"/>
<circle cx="627.5" cy="527.4" r="1.8" fill="#4682b4" fill-opacity="0.58" stroke="#3c74a8" stroke-opacity="0.7" stroke-width="0.5"/>
<circle cx="628.3" cy="530.1" r="1.8" fill="#4682b4" fill-opacity="0.58" stroke="#3c74a8" stroke-opacity="0.7" stroke-width="0.5"/>
<circle cx="629.6" cy="518.8" r="1.8" fill="#4682b4" fill-opacity="0.58" stroke="#3c74a8" stroke-opacity="0.7" stroke-width="0.5"/>
<circle cx="630.4" cy="524.7" r="1.8" fill="#4682b4" fill-opacity="0.58" stroke="#3c74a8" stroke-opacity="0.7" stroke-width="0.5"/>
<circle cx="631.8" cy="532.3" r="1.8" fill="#4682b4" fill-opacity="0.58" stroke="#3c74a8" stroke-opacity="0.7" stroke-width="0.5"/>
<circle cx="632.3" cy="520.7" r="1.8" fill="#4682b4" fill-opacity="0.58" stroke="#3c74a8" stroke-opacity="0.7" stroke-width="0.5"/>
<circle cx="633.1" cy="527.4" r="1.8" fill="#4682b4" fill-opacity="0.58" stroke="#3c74a8" stroke-opacity="0.7" stroke-width="0.5"/>
<circle cx="634.2" cy="533.6" r="1.8" fill="#4682b4" fill-opacity="0.58" stroke="#3c74a8" stroke-opacity="0.7" stroke-width="0.5"/>
<circle cx="635.0" cy="523.4" r="1.8" fill="#4682b4" fill-opacity="0.58" stroke="#3c74a8" stroke-opacity="0.7" stroke-width="0.5"/>
<circle cx="636.4" cy="526.1" r="1.8" fill="#4682b4" fill-opacity="0.58" stroke="#3c74a8" stroke-opacity="0.7" stroke-width="0.5"/>
<circle cx="638.3" cy="524.2" r="1.8" fill="#4682b4" fill-opacity="0.58" stroke="#3c74a8" stroke-opacity="0.7" stroke-width="0.5"/>
<circle cx="639.9" cy="525.2" r="1.8" fill="#4682b4" fill-opacity="0.58" stroke="#3c74a8" stroke-opacity="0.7" stroke-width="0.5"/>
<circle cx="641.2" cy="530.1" r="1.8" fill="#4682b4" fill-opacity="0.58" stroke="#3c74a8" stroke-opacity="0.7" stroke-width="0.5"/>
<circle cx="642.3" cy="521.2" r="1.8" fill="#4682b4" fill-opacity="0.58" stroke="#3c74a8" stroke-opacity="0.7" stroke-width="0.5"/>
<path d="M410.6,528.9 L641.2,525.2" stroke="#1432d2" stroke-width="1.0" fill="none"/>
<rect x="372.8" y="423.1" width="305.30" height="207.00" fill="none" stroke="#303030" stroke-width="0.75"/>
<rect x="372.50" y="630.1" width="0.6" height="2" fill="#333"/>
<text x="372.80" y="638.80" font-size="6.3" text-anchor="middle" class="ss" fill="#222" >−4</text>
<rect x="410.66" y="630.1" width="0.6" height="2" fill="#333"/>
<text x="410.96" y="638.80" font-size="6.3" text-anchor="middle" class="ss" fill="#222" >−3</text>
<rect x="448.82" y="630.1" width="0.6" height="2" fill="#333"/>
<text x="449.12" y="638.80" font-size="6.3" text-anchor="middle" class="ss" fill="#222" >−2</text>
<rect x="486.99" y="630.1" width="0.6" height="2" fill="#333"/>
<text x="487.29" y="638.80" font-size="6.3" text-anchor="middle" class="ss" fill="#222" >−1</text>
<rect x="525.15" y="630.1" width="0.6" height="2" fill="#333"/>
<text x="525.45" y="638.80" font-size="6.3" text-anchor="middle" class="ss" fill="#222" >0</text>
<rect x="563.31" y="630.1" width="0.6" height="2" fill="#333"/>
<text x="563.61" y="638.80" font-size="6.3" text-anchor="middle" class="ss" fill="#222" >1</text>
<rect x="601.48" y="630.1" width="0.6" height="2" fill="#333"/>
<text x="601.78" y="638.80" font-size="6.3" text-anchor="middle" class="ss" fill="#222" >2</text>
<rect x="639.64" y="630.1" width="0.6" height="2" fill="#333"/>
<text x="639.94" y="638.80" font-size="6.3" text-anchor="middle" class="ss" fill="#222" >3</text>
<rect x="677.80" y="630.1" width="0.6" height="2" fill="#333"/>
<text x="678.10" y="638.80" font-size="6.3" text-anchor="middle" class="ss" fill="#222" >4</text>
<rect x="370.80" y="422.80" width="2" height="0.6" fill="#333"/>
<text x="368.30" y="425.60" font-size="6.3" text-anchor="end" class="ss" fill="#222" >3</text>
<rect x="370.80" y="457.30" width="2" height="0.6" fill="#333"/>
<text x="368.30" y="460.10" font-size="6.3" text-anchor="end" class="ss" fill="#222" >2</text>
<rect x="370.80" y="491.80" width="2" height="0.6" fill="#333"/>
<text x="368.30" y="494.60" font-size="6.3" text-anchor="end" class="ss" fill="#222" >1</text>
<rect x="370.80" y="526.30" width="2" height="0.6" fill="#333"/>
<text x="368.30" y="529.10" font-size="6.3" text-anchor="end" class="ss" fill="#222" >0</text>
<rect x="370.80" y="560.80" width="2" height="0.6" fill="#333"/>
<text x="368.30" y="563.60" font-size="6.3" text-anchor="end" class="ss" fill="#222" >−1</text>
<rect x="370.80" y="595.30" width="2" height="0.6" fill="#333"/>
<text x="368.30" y="598.10" font-size="6.3" text-anchor="end" class="ss" fill="#222" >−2</text>
<rect x="370.80" y="629.80" width="2" height="0.6" fill="#333"/>
<text x="368.30" y="632.60" font-size="6.3" text-anchor="end" class="ss" fill="#222" >−3</text>
<text x="525.75" y="410.70" font-size="7.86" text-anchor="middle" class="ss" fill="#222" textLength="152.5" lengthAdjust="spacingAndGlyphs">THP1 Log Scatter Plot with Regression Line</text>
<text x="525.50" y="419.40" font-size="7.86" text-anchor="middle" class="ss" fill="#222" textLength="85" lengthAdjust="spacingAndGlyphs">Spearman's Rho = 0.10</text>
<text x="505.10" y="646.70" font-size="6.9" text-anchor="start" class="ss" fill="#222" >Log</text>
<text x="519.80" y="646.70" font-size="5.9" text-anchor="start" class="ss" fill="#222" textLength="11" lengthAdjust="spacingAndGlyphs">DEP</text>
<text transform="translate(355.4,547.20) rotate(-90)" font-size="8.3" class="ss" fill="#222" textLength="13.2" lengthAdjust="spacingAndGlyphs">Log</text>
<text transform="translate(355.4,532.60) rotate(-90)" font-size="5.6" class="ss" fill="#222" textLength="11.3" lengthAdjust="spacingAndGlyphs">DEG</text>
<rect x="410.58" y="678" width="0.8" height="207.20" fill="#b4b4b4"/>
<rect x="448.75" y="678" width="0.8" height="207.20" fill="#b4b4b4"/>
<rect x="486.93" y="678" width="0.8" height="207.20" fill="#b4b4b4"/>
<rect x="525.10" y="678" width="0.8" height="207.20" fill="#b4b4b4"/>
<rect x="563.28" y="678" width="0.8" height="207.20" fill="#b4b4b4"/>
<rect x="601.45" y="678" width="0.8" height="207.20" fill="#b4b4b4"/>
<rect x="639.63" y="678" width="0.8" height="207.20" fill="#b4b4b4"/>
<rect x="372.8" y="712.18" width="305.40" height="0.7" fill="#d0d0d0"/>
<rect x="372.8" y="746.72" width="305.40" height="0.7" fill="#d0d0d0"/>
<rect x="372.8" y="781.25" width="305.40" height="0.7" fill="#d0d0d0"/>
<rect x="372.8" y="815.78" width="305.40" height="0.7" fill="#d0d0d0"/>
<rect x="372.8" y="850.32" width="305.40" height="0.7" fill="#d0d0d0"/>
<path d="M437,776 L480,778.2 L560,778.9 L640.5,778.2 L640.5,780.4 L560,781.2 L480,783 L437,786.5Z" fill="#4a7fd0" fill-opacity="0.24"/>
<circle cx="436.6" cy="793.7" r="1.8" fill="#4682b4" fill-opacity="0.58" stroke="#3c74a8" stroke-opacity="0.7" stroke-width="0.5"/>
<circle cx="485.0" cy="779.0" r="1.8" fill="#4682b4" fill-opacity="0.58" stroke="#3c74a8" stroke-opacity="0.7" stroke-width="0.5"/>
<circle cx="492.0" cy="778.6" r="1.8" fill="#4682b4" fill-opacity="0.58" stroke="#3c74a8" stroke-opacity="0.7" stroke-width="0.5"/>
<circle cx="492.3" cy="780.2" r="1.8" fill="#4682b4" fill-opacity="0.58" stroke="#3c74a8" stroke-opacity="0.7" stroke-width="0.5"/>
<circle cx="510.9" cy="778.6" r="1.8" fill="#4682b4" fill-opacity="0.58" stroke="#3c74a8" stroke-opacity="0.7" stroke-width="0.5"/>
<circle cx="518.6" cy="783.3" r="1.8" fill="#4682b4" fill-opacity="0.58" stroke="#3c74a8" stroke-opacity="0.7" stroke-width="0.5"/>
<circle cx="519.8" cy="780.2" r="1.8" fill="#4682b4" fill-opacity="0.58" stroke="#3c74a8" stroke-opacity="0.7" stroke-width="0.5"/>
<circle cx="522.9" cy="775.1" r="1.8" fill="#4682b4" fill-opacity="0.58" stroke="#3c74a8" stroke-opacity="0.7" stroke-width="0.5"/>
<circle cx="522.9" cy="778.2" r="1.8" fill="#4682b4" fill-opacity="0.58" stroke="#3c74a8" stroke-opacity="0.7" stroke-width="0.5"/>
<circle cx="529.5" cy="780.6" r="1.8" fill="#4682b4" fill-opacity="0.58" stroke="#3c74a8" stroke-opacity="0.7" stroke-width="0.5"/>
<circle cx="536.1" cy="773.2" r="1.8" fill="#4682b4" fill-opacity="0.58" stroke="#3c74a8" stroke-opacity="0.7" stroke-width="0.5"/>
<circle cx="558.5" cy="785.2" r="1.8" fill="#4682b4" fill-opacity="0.58" stroke="#3c74a8" stroke-opacity="0.7" stroke-width="0.5"/>
<circle cx="577.8" cy="783.3" r="1.8" fill="#4682b4" fill-opacity="0.58" stroke="#3c74a8" stroke-opacity="0.7" stroke-width="0.5"/>
<circle cx="581.7" cy="778.2" r="1.8" fill="#4682b4" fill-opacity="0.58" stroke="#3c74a8" stroke-opacity="0.7" stroke-width="0.5"/>
<circle cx="586.3" cy="763.5" r="1.8" fill="#4682b4" fill-opacity="0.58" stroke="#3c74a8" stroke-opacity="0.7" stroke-width="0.5"/>
<circle cx="586.7" cy="777.9" r="1.8" fill="#4682b4" fill-opacity="0.58" stroke="#3c74a8" stroke-opacity="0.7" stroke-width="0.5"/>
<circle cx="586.7" cy="786.0" r="1.8" fill="#4682b4" fill-opacity="0.58" stroke="#3c74a8" stroke-opacity="0.7" stroke-width="0.5"/>
<circle cx="589.1" cy="779.4" r="1.8" fill="#4682b4" fill-opacity="0.58" stroke="#3c74a8" stroke-opacity="0.7" stroke-width="0.5"/>
<circle cx="590.6" cy="777.9" r="1.8" fill="#4682b4" fill-opacity="0.58" stroke="#3c74a8" stroke-opacity="0.7" stroke-width="0.5"/>
<circle cx="593.3" cy="774.0" r="1.8" fill="#4682b4" fill-opacity="0.58" stroke="#3c74a8" stroke-opacity="0.7" stroke-width="0.5"/>
<circle cx="596.0" cy="782.9" r="1.8" fill="#4682b4" fill-opacity="0.58" stroke="#3c74a8" stroke-opacity="0.7" stroke-width="0.5"/>
<circle cx="599.9" cy="774.4" r="1.8" fill="#4682b4" fill-opacity="0.58" stroke="#3c74a8" stroke-opacity="0.7" stroke-width="0.5"/>
<circle cx="603.8" cy="781.7" r="1.8" fill="#4682b4" fill-opacity="0.58" stroke="#3c74a8" stroke-opacity="0.7" stroke-width="0.5"/>
<circle cx="604.9" cy="791.8" r="1.8" fill="#4682b4" fill-opacity="0.58" stroke="#3c74a8" stroke-opacity="0.7" stroke-width="0.5"/>
<circle cx="605.7" cy="783.3" r="1.8" fill="#4682b4" fill-opacity="0.58" stroke="#3c74a8" stroke-opacity="0.7" stroke-width="0.5"/>
<circle cx="608.8" cy="780.9" r="1.8" fill="#4682b4" fill-opacity="0.58" stroke="#3c74a8" stroke-opacity="0.7" stroke-width="0.5"/>
<circle cx="610.7" cy="788.7" r="1.8" fill="#4682b4" fill-opacity="0.58" stroke="#3c74a8" stroke-opacity="0.7" stroke-width="0.5"/>
<circle cx="614.6" cy="774.0" r="1.8" fill="#4682b4" fill-opacity="0.58" stroke="#3c74a8" stroke-opacity="0.7" stroke-width="0.5"/>
<circle cx="617.3" cy="772.4" r="1.8" fill="#4682b4" fill-opacity="0.58" stroke="#3c74a8" stroke-opacity="0.7" stroke-width="0.5"/>
<circle cx="618.1" cy="780.9" r="1.8" fill="#4682b4" fill-opacity="0.58" stroke="#3c74a8" stroke-opacity="0.7" stroke-width="0.5"/>
<circle cx="620.0" cy="786.8" r="1.8" fill="#4682b4" fill-opacity="0.58" stroke="#3c74a8" stroke-opacity="0.7" stroke-width="0.5"/>
<circle cx="623.9" cy="781.7" r="1.8" fill="#4682b4" fill-opacity="0.58" stroke="#3c74a8" stroke-opacity="0.7" stroke-width="0.5"/>
<circle cx="624.3" cy="784.0" r="1.8" fill="#4682b4" fill-opacity="0.58" stroke="#3c74a8" stroke-opacity="0.7" stroke-width="0.5"/>
<circle cx="625.0" cy="784.8" r="1.8" fill="#4682b4" fill-opacity="0.58" stroke="#3c74a8" stroke-opacity="0.7" stroke-width="0.5"/>
<circle cx="632.0" cy="779.8" r="1.8" fill="#4682b4" fill-opacity="0.58" stroke="#3c74a8" stroke-opacity="0.7" stroke-width="0.5"/>
<circle cx="637.0" cy="777.1" r="1.8" fill="#4682b4" fill-opacity="0.58" stroke="#3c74a8" stroke-opacity="0.7" stroke-width="0.5"/>
<path d="M410.5,781.4 L640.5,779.75" stroke="#1432d2" stroke-width="1.0" fill="none"/>
<rect x="372.8" y="678" width="305.40" height="207.20" fill="none" stroke="#303030" stroke-width="0.75"/>
<rect x="372.50" y="885.2" width="0.6" height="2" fill="#333"/>
<text x="372.80" y="893.90" font-size="6.3" text-anchor="middle" class="ss" fill="#222" >−4</text>
<rect x="410.68" y="885.2" width="0.6" height="2" fill="#333"/>
<text x="410.98" y="893.90" font-size="6.3" text-anchor="middle" class="ss" fill="#222" >−3</text>
<rect x="448.85" y="885.2" width="0.6" height="2" fill="#333"/>
<text x="449.15" y="893.90" font-size="6.3" text-anchor="middle" class="ss" fill="#222" >−2</text>
<rect x="487.03" y="885.2" width="0.6" height="2" fill="#333"/>
<text x="487.33" y="893.90" font-size="6.3" text-anchor="middle" class="ss" fill="#222" >−1</text>
<rect x="525.20" y="885.2" width="0.6" height="2" fill="#333"/>
<text x="525.50" y="893.90" font-size="6.3" text-anchor="middle" class="ss" fill="#222" >0</text>
<rect x="563.38" y="885.2" width="0.6" height="2" fill="#333"/>
<text x="563.68" y="893.90" font-size="6.3" text-anchor="middle" class="ss" fill="#222" >1</text>
<rect x="601.55" y="885.2" width="0.6" height="2" fill="#333"/>
<text x="601.85" y="893.90" font-size="6.3" text-anchor="middle" class="ss" fill="#222" >2</text>
<rect x="639.73" y="885.2" width="0.6" height="2" fill="#333"/>
<text x="640.03" y="893.90" font-size="6.3" text-anchor="middle" class="ss" fill="#222" >3</text>
<rect x="677.90" y="885.2" width="0.6" height="2" fill="#333"/>
<text x="678.20" y="893.90" font-size="6.3" text-anchor="middle" class="ss" fill="#222" >4</text>
<rect x="370.80" y="677.70" width="2" height="0.6" fill="#333"/>
<text x="368.30" y="680.50" font-size="6.3" text-anchor="end" class="ss" fill="#222" >3</text>
<rect x="370.80" y="712.23" width="2" height="0.6" fill="#333"/>
<text x="368.30" y="715.03" font-size="6.3" text-anchor="end" class="ss" fill="#222" >2</text>
<rect x="370.80" y="746.77" width="2" height="0.6" fill="#333"/>
<text x="368.30" y="749.57" font-size="6.3" text-anchor="end" class="ss" fill="#222" >1</text>
<rect x="370.80" y="781.30" width="2" height="0.6" fill="#333"/>
<text x="368.30" y="784.10" font-size="6.3" text-anchor="end" class="ss" fill="#222" >0</text>
<rect x="370.80" y="815.83" width="2" height="0.6" fill="#333"/>
<text x="368.30" y="818.63" font-size="6.3" text-anchor="end" class="ss" fill="#222" >−1</text>
<rect x="370.80" y="850.37" width="2" height="0.6" fill="#333"/>
<text x="368.30" y="853.17" font-size="6.3" text-anchor="end" class="ss" fill="#222" >−2</text>
<rect x="370.80" y="884.90" width="2" height="0.6" fill="#333"/>
<text x="368.30" y="887.70" font-size="6.3" text-anchor="end" class="ss" fill="#222" >−3</text>
<text x="525.75" y="665.60" font-size="7.86" text-anchor="middle" class="ss" fill="#222" textLength="152.5" lengthAdjust="spacingAndGlyphs">K562 Log Scatter Plot with Regression Line</text>
<text x="525.50" y="674.30" font-size="7.86" text-anchor="middle" class="ss" fill="#222" textLength="87" lengthAdjust="spacingAndGlyphs">Spearman's Rho = -0.11</text>
<text x="505.10" y="901.80" font-size="6.9" text-anchor="start" class="ss" fill="#222" >Log</text>
<text x="519.80" y="901.80" font-size="5.9" text-anchor="start" class="ss" fill="#222" textLength="11" lengthAdjust="spacingAndGlyphs">DEP</text>
<text transform="translate(355.4,802.20) rotate(-90)" font-size="8.3" class="ss" fill="#222" textLength="13.2" lengthAdjust="spacingAndGlyphs">Log</text>
<text transform="translate(355.4,787.60) rotate(-90)" font-size="5.6" class="ss" fill="#222" textLength="11.3" lengthAdjust="spacingAndGlyphs">DEG</text>
</svg></body></html>
